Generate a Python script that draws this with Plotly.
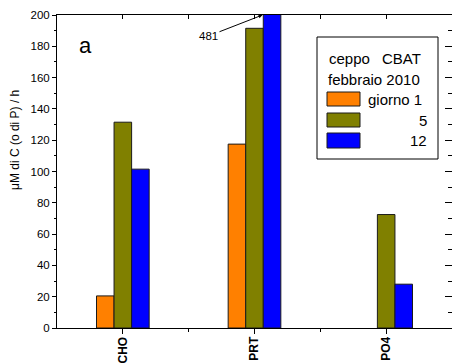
import plotly.graph_objects as go

# ---- data ----
categories = ["CHO", "PRT", "PO4"]
series_names = ["giorno 1", "5", "12"]
values_giorno1 = [20.5, 117.5, None]
values_5 = [131.5, 191.5, 72.5]
values_12 = [101.5, 481, 28]
colors = ["#FF8000", "#808000", "#0000FF"]
y_title = "\u03bcM di C (o di P) / h"
legend_title_1 = "ceppo"
legend_title_2 = "CBAT"
legend_title_3 = "febbraio 2010"
panel_label = "a"

FONT = "Liberation Sans, Arial, sans-serif"
W, H = 452, 364
L, R, T, B = 57, 0, 15, 36
PW = W - L - R
PH = H - T - B


def px(x):
    return (x - L) / PW


def py(y):
    return (H - B - y) / PH


xpos = list(range(len(categories)))
all_series = [values_giorno1, values_5, values_12]

fig = go.Figure()
for name, vals, col in zip(series_names, all_series, colors):
    fig.add_trace(go.Bar(
        x=xpos, y=vals, name=name,
        marker=dict(color=col, line=dict(color="#1a1a1a", width=1)),
        showlegend=False,
    ))
fig.add_trace(go.Scatter(x=[], y=[], xaxis="x2", yaxis="y2",
                         showlegend=False, hoverinfo="skip"))

axis_common = dict(showgrid=False, zeroline=False, showline=True,
                   linecolor="black", linewidth=1)

fig.update_layout(
    width=W, height=H,
    margin=dict(l=L, r=R, t=T, b=B, pad=0),
    paper_bgcolor="white", plot_bgcolor="white",
    barmode="group", bargap=0.6, bargroupgap=0,
    font=dict(family=FONT, color="black", size=12),
    xaxis=dict(
        **axis_common, range=[-0.5, 2.5],
        tickmode="array", tickvals=xpos, ticktext=categories,
        tickangle=-90, ticks="outside", ticklen=5, tickcolor="black",
        ticklabelstandoff=-2,
        tickfont=dict(family=FONT, size=12, weight="bold"),
        minor=dict(tickmode="array", tickvals=[0.5, 1.5], ticks="outside",
                   ticklen=3, tickcolor="black"),
    ),
    xaxis2=dict(
        **axis_common, overlaying="x", side="top", anchor="y",
        range=[-0.5, 2.5], tickmode="array", tickvals=xpos,
        ticks="inside", ticklen=4, tickcolor="black", showticklabels=False,
        minor=dict(tickmode="array", tickvals=[0.5, 1.5], ticks="inside",
                   ticklen=4, tickcolor="black"),
    ),
    yaxis=dict(
        **axis_common, range=[0, 200], dtick=20, tick0=0,
        ticks="outside", ticklen=4, tickcolor="black",
        tickfont=dict(family=FONT, size=11.5),
        minor=dict(dtick=10, ticks="outside", ticklen=2, tickcolor="black"),
    ),
    yaxis2=dict(
        **axis_common, overlaying="y", side="right", anchor="x",
        range=[0, 200], dtick=20, tick0=0,
        ticks="inside", ticklen=7, tickcolor="black", showticklabels=False,
        minor=dict(dtick=10, ticks="inside", ticklen=4, tickcolor="black"),
    ),
)

annotations = [
    # y-axis title
    dict(xref="paper", yref="paper", x=px(15), y=py(140), text=y_title,
         textangle=-90, showarrow=False, xanchor="center", yanchor="middle",
         font=dict(family=FONT, size=12)),
    # panel label
    dict(xref="paper", yref="paper", x=px(85), y=py(45), text=panel_label,
         showarrow=False, xanchor="center", yanchor="middle",
         font=dict(family=FONT, size=22)),
    # off-scale value
    dict(xref="x", yref="y", x=xpos[1], y=200, xshift=8,
         text=f"{values_12[1]:.0f}", showarrow=True, arrowhead=2,
         arrowsize=0.8, arrowwidth=1, arrowcolor="black",
         ax=-54, ay=21, font=dict(family=FONT, size=11.5)),
    # legend title
    dict(xref="paper", yref="paper", x=px(327), y=py(58), text=legend_title_1,
         showarrow=False, xanchor="left", yanchor="middle",
         font=dict(family=FONT, size=15)),
    dict(xref="paper", yref="paper", x=px(423), y=py(58), text=legend_title_2,
         showarrow=False, xanchor="right", yanchor="middle",
         font=dict(family=FONT, size=15)),
    dict(xref="paper", yref="paper", x=px(326), y=py(79), text=legend_title_3,
         showarrow=False, xanchor="left", yanchor="middle",
         font=dict(family=FONT, size=15)),
]

shapes = [
    dict(type="rect", xref="paper", yref="paper",
         x0=px(317), x1=px(438), y0=py(159), y1=py(37),
         line=dict(color="black", width=1), fillcolor="white", layer="above"),
]

swatch_rows = [(92, 106), (113, 127), (133, 148)]
label_right = [424, 429, 429]
for name, col, (y0, y1), xr in zip(series_names, colors, swatch_rows, label_right):
    shapes.append(dict(type="rect", xref="paper", yref="paper",
                       x0=px(327), x1=px(360), y0=py(y1), y1=py(y0),
                       line=dict(color="#1a1a1a", width=1), fillcolor=col,
                       layer="above"))
    annotations.append(dict(xref="paper", yref="paper", x=px(xr),
                            y=py((y0 + y1) / 2), text=name, showarrow=False,
                            xanchor="right", yanchor="middle",
                            font=dict(family=FONT, size=15)))

fig.update_layout(annotations=annotations, shapes=shapes)

fig.write_html("out.html")
